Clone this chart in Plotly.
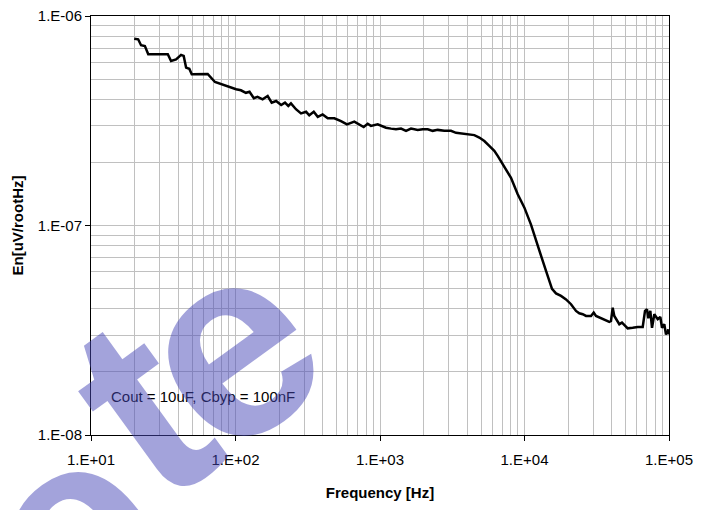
import plotly.graph_objects as go

FREQ_HZ = [
    19.9, 21.2, 22.2, 23.6, 24.9, 34.0, 35.8, 38.8, 42.0, 43.8,
    45.5, 47.9, 49.8, 64.2, 72.1, 79.4, 88.3, 93.1, 101, 109,
    118, 125, 134, 142, 154, 167, 178, 191, 207, 220,
    232, 242, 262, 284, 308, 324, 348, 371, 401, 435,
    483, 537, 591, 664, 719, 771, 822, 866, 964, 1016,
    1100, 1192, 1290, 1398, 1514, 1639, 1824, 1975, 2139, 2316,
    2508, 2786, 3099, 3357, 3736, 4046, 4494, 4867, 5271, 5707,
    6180, 6524, 7247, 8064, 8975, 9968, 11090, 12010, 12660, 13370,
    14090, 14780, 15500, 16520, 17890, 19380, 20980, 22720, 23940, 25280,
    26650, 28860, 30120, 31250, 33840, 36640, 38640, 39680, 40770, 41830,
    43660, 45300, 47280, 49600, 51780, 56090, 60740, 65770, 68240, 70460,
    71920, 74250, 76290, 79130, 83530, 87080, 89460, 92790, 95330, 98900,
    100000,
]
EN_NOISE = [
    7.79e-7, 7.74e-7, 7.25e-7, 7.19e-7, 6.57e-7, 6.57e-7, 6.10e-7, 6.21e-7, 6.52e-7, 6.45e-7,
    5.67e-7, 5.60e-7, 5.27e-7, 5.29e-7, 4.84e-7, 4.72e-7, 4.60e-7, 4.55e-7, 4.47e-7, 4.42e-7,
    4.30e-7, 4.35e-7, 4.05e-7, 4.11e-7, 4.00e-7, 4.15e-7, 3.86e-7, 3.93e-7, 3.76e-7, 3.86e-7,
    3.72e-7, 3.83e-7, 3.59e-7, 3.43e-7, 3.49e-7, 3.36e-7, 3.49e-7, 3.30e-7, 3.39e-7, 3.25e-7,
    3.25e-7, 3.15e-7, 3.04e-7, 3.13e-7, 3.04e-7, 2.95e-7, 3.06e-7, 2.99e-7, 3.04e-7, 2.99e-7,
    2.93e-7, 2.90e-7, 2.88e-7, 2.90e-7, 2.83e-7, 2.90e-7, 2.86e-7, 2.88e-7, 2.88e-7, 2.83e-7,
    2.86e-7, 2.83e-7, 2.83e-7, 2.77e-7, 2.74e-7, 2.73e-7, 2.70e-7, 2.63e-7, 2.53e-7, 2.40e-7,
    2.27e-7, 2.15e-7, 1.92e-7, 1.69e-7, 1.41e-7, 1.22e-7, 1.01e-7, 8.43e-8, 7.55e-8, 6.77e-8,
    6.07e-8, 5.43e-8, 4.98e-8, 4.74e-8, 4.61e-8, 4.44e-8, 4.21e-8, 3.91e-8, 3.81e-8, 3.77e-8,
    3.70e-8, 3.70e-8, 3.84e-8, 3.70e-8, 3.61e-8, 3.53e-8, 3.47e-8, 3.50e-8, 4.05e-8, 3.70e-8,
    3.53e-8, 3.38e-8, 3.44e-8, 3.31e-8, 3.23e-8, 3.25e-8, 3.28e-8, 3.28e-8, 3.91e-8, 3.98e-8,
    3.61e-8, 3.91e-8, 3.25e-8, 3.77e-8, 3.57e-8, 3.66e-8, 3.25e-8, 3.38e-8, 3.02e-8, 3.19e-8,
    3.02e-8,
]

X_TICKS      = [1e1, 1e2, 1e3, 1e4, 1e5]
X_TICK_TEXT  = ["1.E+01", "1.E+02", "1.E+03", "1.E+04", "1.E+05"]
Y_TICKS      = [1e-8, 1e-7, 1e-6]
Y_TICK_TEXT  = ["1.E-08", "1.E-07", "1.E-06"]

NOTE_TEXT = "Cout = 10uF, Cbyp = 100nF"
# stamp letters that show through (the tail of "...ete")
STAMP_LETTERS = ["e", "t", "e"]
# ——————————————————————————————————

FONT = "Liberation Sans, Arial, sans-serif"
GRID = "#c0c0c0"

fig = go.Figure(go.Scatter(
    x=FREQ_HZ, y=EN_NOISE, mode="lines",
    line=dict(color="black", width=2.5),
    hoverinfo="skip",
))

axis_common = dict(
    type="log", automargin=False,
    showline=True, linecolor="black", linewidth=1, mirror=True,
    ticks="outside", ticklen=5, tickcolor="black",
    showgrid=True, gridcolor=GRID, gridwidth=1,
    minor=dict(dtick="D1", showgrid=True, gridcolor=GRID, gridwidth=1, ticks=""),
    zeroline=False,
    tickfont=dict(family=FONT, size=15, color="black"),
    tickmode="array",
    ticklabeloverflow="allow",
)

fig.update_xaxes(
    **axis_common,
    range=[1, 5],
    tickvals=X_TICKS, ticktext=X_TICK_TEXT,
    ticklabelstandoff=6,
    title=dict(text="Frequency [Hz]", standoff=20,
               font=dict(family=FONT, size=15, color="black", weight="bold")),
)
fig.update_yaxes(
    **axis_common,
    range=[-8, -6],
    tickvals=Y_TICKS, ticktext=Y_TICK_TEXT,
    title=dict(text="En[uV/rootHz]", standoff=10,
               font=dict(family=FONT, size=15, color="black", weight="bold")),
)

# parameter note inside the plot
fig.add_annotation(
    xref="paper", yref="paper", x=0.031, y=0.093,
    xanchor="left", yanchor="middle", showarrow=False,
    text=NOTE_TEXT, font=dict(family=FONT, size=15, color="black"),
)

# diagonal stamp drawn over the chart, one letter at a time
stamp_pos = [(-0.036, -0.222), (0.0865, 0.067), (0.234, 0.215)]
for ch, (px_, py_) in zip(STAMP_LETTERS, stamp_pos):
    fig.add_annotation(
        xref="paper", yref="paper", x=px_, y=py_,
        xanchor="center", yanchor="middle", showarrow=False,
        text=ch, textangle=-36,
        font=dict(family=FONT, size=270, color="rgba(71,71,183,0.5)", weight="bold"),
    )

# page body adds ~7px, so margins are trimmed to land the plot box where the reference has it
fig.update_layout(
    width=712, height=510,
    margin=dict(l=83, r=51, t=8, b=83),
    paper_bgcolor="white", plot_bgcolor="white",
    showlegend=False,
)

fig.write_html("out.html")
